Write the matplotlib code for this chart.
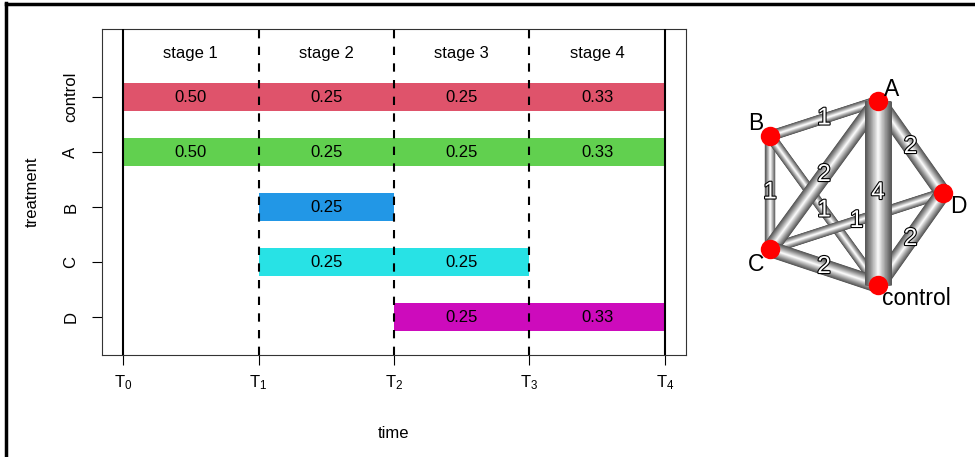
import matplotlib
matplotlib.use("Agg")
import matplotlib.pyplot as plt
import matplotlib.patheffects as pe
from matplotlib.lines import Line2D
import numpy as np

plt.rcParams['font.family'] = ['Liberation Sans', 'DejaVu Sans']
plt.rcParams['mathtext.fontset'] = 'custom'
plt.rcParams['mathtext.rm'] = 'Liberation Sans'

# allocation ratios per treatment and stage (None = arm not active)
treatments = ['control', 'A', 'B', 'C', 'D']
colors = ['#DF536B', '#61D04F', '#2297E6', '#28E2E5', '#CD0BBC']
alloc = {
    'control': [0.50, 0.25, 0.25, 0.33],
    'A':       [0.50, 0.25, 0.25, 0.33],
    'B':       [None, 0.25, None, None],
    'C':       [None, 0.25, 0.25, None],
    'D':       [None, None, 0.25, 0.33],
}
stages = ['stage 1', 'stage 2', 'stage 3', 'stage 4']
time_labels = [r'$\mathregular{T_0}$', r'$\mathregular{T_1}$', r'$\mathregular{T_2}$',
               r'$\mathregular{T_3}$', r'$\mathregular{T_4}$']

# network of comparisons: node layout and edge weights
nodes = ['A', 'B', 'C', 'D', 'control']
node_x = [0.22, -0.86, -0.86, 0.87, 0.22]
node_y = [0.92, 0.57, -0.56, 0.00, -0.92]
edges = [('A', 'B', 1), ('B', 'C', 1), ('B', 'control', 1), ('C', 'D', 1),
         ('A', 'C', 2), ('C', 'control', 2), ('A', 'D', 2), ('D', 'control', 2),
         ('A', 'control', 4)]

FS = 12

fig = plt.figure(figsize=(9.75, 4.57), dpi=100)

# ---- left panel: allocation over stages ----
ax = fig.add_axes([102/975, 1 - 355/457, 584/975, 326/457])
n = len(treatments)
ypos = {t: n - i for i, t in enumerate(treatments)}

for t, c in zip(treatments, colors):
    for s, v in enumerate(alloc[t]):
        if v is None:
            continue
        ax.barh(ypos[t], 1, left=s, height=0.5, color=c, linewidth=0)
        ax.text(s + 0.5, ypos[t], f'{v:.2f}', ha='center', va='center', fontsize=FS)

for k in range(len(time_labels)):
    ls = '-' if k in (0, len(time_labels) - 1) else (0, (4, 4))
    ax.axvline(k, color='black', lw=1.5, linestyle=ls, zorder=3)

for s, lab in enumerate(stages):
    ax.text(s + 0.5, 5.8, lab, ha='center', va='center', fontsize=FS)

ax.set_xlim(-0.155, 4.155)
ax.set_ylim(0.31, 6.24)
ax.set_xticks(range(len(time_labels)))
ax.set_xticklabels(time_labels, fontsize=FS)
ax.set_yticks([ypos[t] for t in treatments])
ax.set_yticklabels(treatments, rotation=90, va='center', fontsize=FS)
ax.tick_params(axis='x', length=7, width=0.8, pad=6)
ax.tick_params(axis='y', length=7, width=0.8, pad=10)
for sp in ax.spines.values():
    sp.set_linewidth(0.8)
    sp.set_color('#333333')
ax.set_xlabel('time', fontsize=FS, labelpad=25)
ax.set_ylabel('treatment', fontsize=FS, labelpad=17)

# ---- right panel: network graph ----
ax2 = fig.add_axes([706/975, 1 - 323/457, 269/975, 260/457])
ax2.set_xlim(-1.5, 1.19)
ax2.set_ylim(-1.3, 1.3)
ax2.axis('off')
pos = {nd: (x, y) for nd, x, y in zip(nodes, node_x, node_y)}

for a, b, w in edges:
    (x0, y0), (x1, y1) = pos[a], pos[b]
    full = (4.5 + 5.5 * w) * 0.72
    layers = 24
    for k in range(layers):
        f = k / (layers - 1)
        g = 0.33 + 0.66 * f ** 1.1
        ax2.plot([x0, x1], [y0, y1], color=(g, g, g), lw=full * (1 - f) + 0.3,
                 solid_capstyle='butt', zorder=1)
    ax2.text((x0 + x1) / 2, (y0 + y1) / 2, str(w), ha='center', va='center',
             fontsize=17.5, color='white', zorder=2,
             path_effects=[pe.withStroke(linewidth=1.6, foreground='black')])

ax2.plot(node_x, node_y, 'o', color='red', markersize=14, markeredgewidth=0, zorder=3)

label_off = {'A': (10, 8, 'center'), 'B': (-10, 9, 'center'), 'C': (-10, -11, 'center'),
             'D': (11, -10, 'center'), 'control': (3, -10, 'left')}
for nd in nodes:
    dx, dy, ha = label_off[nd]
    ax2.annotate(nd, pos[nd], xytext=(dx, dy), textcoords='offset points',
                 ha=ha, va='center', fontsize=16.5, zorder=4, annotation_clip=False)

# figure frame (left and top)
fig.add_artist(Line2D([6/975, 6/975], [0, 1 - 3/457], color='black', lw=2.5))
fig.add_artist(Line2D([6/975, 1], [1 - 4/457, 1 - 4/457], color='black', lw=2.5))

fig.savefig('out.png', dpi=100)
